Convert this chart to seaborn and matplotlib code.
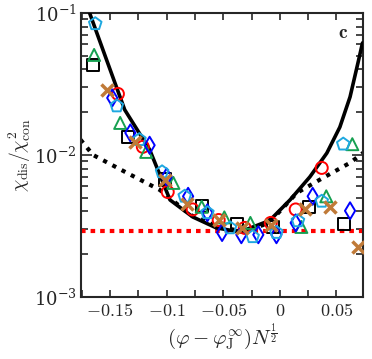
import numpy as np
import matplotlib
matplotlib.use('Agg')
import matplotlib.pyplot as plt
import seaborn as sns
from matplotlib.ticker import FixedLocator, FixedFormatter, LogLocator, NullFormatter

# data
sq_x = [-0.165, -0.134, -0.101, -0.069, -0.038, -0.006, 0.026, 0.057]
sq_y = [0.0431, 0.0134, 0.00671, 0.00438, 0.00327, 0.00311, 0.00431, 0.00327]

ci_x = [-0.143, -0.121, -0.099, -0.077, -0.054, -0.031, -0.008, 0.014, 0.037]
ci_y = [0.0269, 0.0114, 0.00548, 0.00413, 0.00348, 0.00306, 0.00332, 0.00413, 0.0081]

tr_x = [-0.164, -0.141, -0.118, -0.094, -0.069, -0.049, -0.026, 0.019, 0.041, 0.064]
tr_y = [0.0506, 0.0168, 0.0105, 0.00635, 0.00431, 0.00363, 0.00332, 0.00311, 0.00511, 0.0119]

di_x = [-0.148, -0.132, -0.115, -0.100, -0.081, -0.064, -0.051, -0.034, -0.019, -0.003, 0.014, 0.029, 0.062]
di_y = [0.0252, 0.0143, 0.0117, 0.0070, 0.00511, 0.00391, 0.00284, 0.00274, 0.00274, 0.00274, 0.00332, 0.00511, 0.00404]

pe_x = [-0.163, -0.144, -0.124, -0.104, -0.084, -0.064, -0.044, -0.024, -0.003, 0.016, 0.037, 0.056]
pe_y = [0.0838, 0.0221, 0.0128, 0.00759, 0.00511, 0.00391, 0.00306, 0.00265, 0.00284, 0.00343, 0.00471, 0.0119]

cr_x = [-0.153, -0.128, -0.101, -0.082, -0.054, -0.033, -0.008, 0.022, 0.044, 0.069]
cr_y = [0.0287, 0.0124, 0.00671, 0.0045, 0.00348, 0.00306, 0.00321, 0.00413, 0.00431, 0.00225]

# fitted curves
fit_x = [-0.168, -0.153, -0.137, -0.115, -0.097, -0.077, -0.056, -0.035, -0.009,
         0.009, 0.0265, 0.0415, 0.053, 0.062, 0.069, 0.073]
fit_y = [0.1, 0.0467, 0.0208, 0.0109, 0.00482, 0.00366, 0.00306, 0.00287, 0.00345,
         0.00482, 0.0070, 0.0103, 0.0157, 0.0256, 0.0445, 0.0615]

dot_x = [-0.176, -0.165, -0.135, -0.106, -0.079, -0.058, -0.035, -0.015, -0.003,
         0.015, 0.035, 0.062, 0.074]
dot_y = [0.0128, 0.0100, 0.00747, 0.00567, 0.00378, 0.0032, 0.0029, 0.0032, 0.00378,
         0.0054, 0.00667, 0.0088, 0.0104]

floor_y = 0.0029

sns.set_style('ticks')
plt.rcParams['mathtext.fontset'] = 'cm'
plt.rcParams['font.family'] = ['DejaVu Serif']

fig, ax = plt.subplots(figsize=(3.72, 3.59), dpi=100)

ax.axhline(floor_y, color='#ff0000', lw=3, ls=(0, (1.1, 1.2)), zorder=1)
sns.lineplot(x=dot_x, y=dot_y, ax=ax, color='black', lw=3, sort=False, estimator=None, zorder=2)
ax.lines[-1].set_linestyle((0, (1, 1.5)))
sns.lineplot(x=fit_x, y=fit_y, ax=ax, color='black', lw=2.6, sort=False, estimator=None, zorder=3)

ms = 75
mew = 1.4
sns.scatterplot(x=sq_x, y=sq_y, ax=ax, marker='s', s=ms, fc='none', ec='black', linewidth=mew, zorder=4)
sns.scatterplot(x=ci_x, y=ci_y, ax=ax, marker='o', s=ms, fc='none', ec='#ff0000', linewidth=mew, zorder=4)
sns.scatterplot(x=tr_x, y=tr_y, ax=ax, marker='^', s=ms, fc='none', ec='#16a050', linewidth=mew, zorder=4)
sns.scatterplot(x=di_x, y=di_y, ax=ax, marker='d', s=ms, fc='none', ec='#0000ff', linewidth=mew, zorder=4)
sns.scatterplot(x=pe_x, y=pe_y, ax=ax, marker='p', s=ms + 15, fc='none', ec='#1ea8e0', linewidth=mew, zorder=4)
sns.scatterplot(x=cr_x, y=cr_y, ax=ax, marker='x', s=ms, color='#c07a38', linewidth=2.5, zorder=4)

ax.set_yscale('log')
ax.set_ylim(1e-3, 1e-1)
ax.set_xlim(-0.1755, 0.0735)

xt = [-0.15, -0.1, -0.05, 0, 0.05]
xl = ['$-0.15$', '$-0.1$', '$-0.05$', '$0$', '$0.05$']
ax.xaxis.set_major_locator(FixedLocator(xt))
ax.xaxis.set_major_formatter(FixedFormatter(xl))
ax.xaxis.set_minor_locator(FixedLocator([-0.175, -0.125, -0.075, -0.025, 0.025]))
ax.yaxis.set_major_locator(LogLocator(base=10, numticks=5))
ax.yaxis.set_minor_locator(LogLocator(base=10, subs=np.arange(2, 10), numticks=20))
ax.yaxis.set_minor_formatter(NullFormatter())

ax.tick_params(which='both', direction='in', top=True, right=True, width=1.2, labelsize=13)
ax.tick_params(axis='x', which='both', length=5, pad=4)
ax.tick_params(axis='y', which='major', length=8, pad=3)
ax.tick_params(axis='y', which='minor', length=5)
for sp in ax.spines.values():
    sp.set_linewidth(1.5)

ax.set_xlabel(r'$(\varphi-\varphi_{\rm J}^{\infty})N^{\frac{1}{2}}$', fontsize=15, labelpad=1)
ax.set_ylabel(r'$\chi_{\rm dis}/\chi_{\rm con}^2$', fontsize=14, labelpad=1)
ax.text(0.93, 0.93, r'$\mathbf{c}$', transform=ax.transAxes, fontsize=14, ha='center', va='center')

fig.subplots_adjust(left=0.218, right=0.976, top=0.964, bottom=0.173)
fig.savefig('out.png', dpi=100)
